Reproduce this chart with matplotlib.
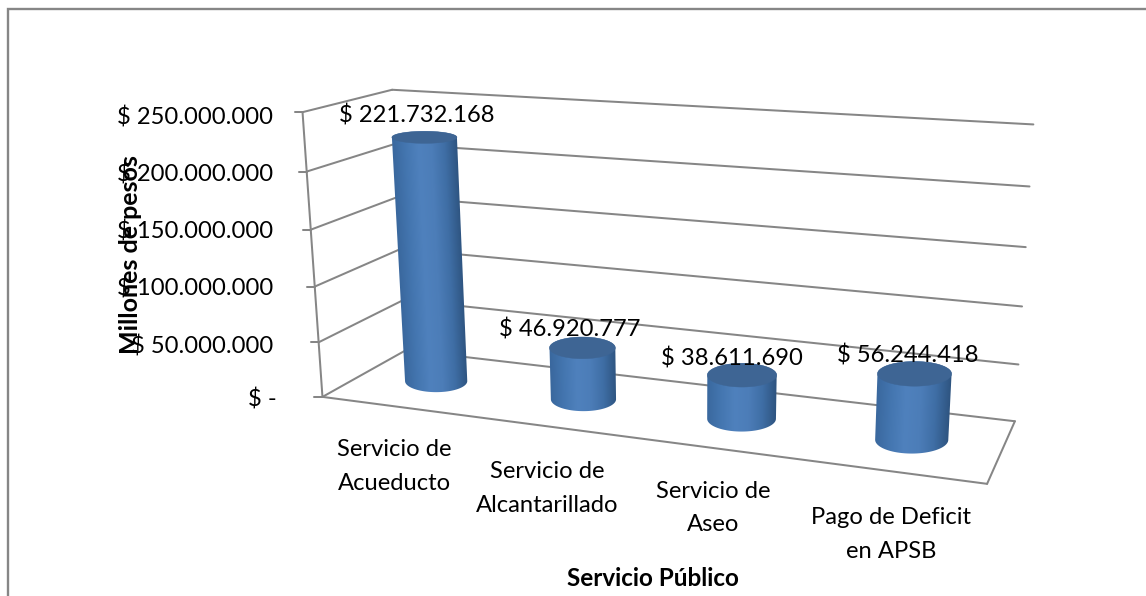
import numpy as np
import matplotlib
matplotlib.use("Agg")
import matplotlib.pyplot as plt
from matplotlib.colors import LinearSegmentedColormap
from matplotlib.patches import Polygon

categories = ["Servicio de\nAcueducto", "Servicio de\nAlcantarillado", "Servicio de\nAseo", "Pago de Deficit\nen APSB"]
values = [221732168, 46920777, 38611690, 56244418]
value_labels = ["$ 221.732.168", "$ 46.920.777", "$ 38.611.690", "$ 56.244.418"]
axis_ticks = [0, 50000000, 100000000, 150000000, 200000000, 250000000]
axis_tick_labels = ["$ -", "$ 50.000.000", "$ 100.000.000", "$ 150.000.000", "$ 200.000.000", "$ 250.000.000"]
y_title = "Millones de pesos"
x_title = "Servicio Público"
v_max = 250000000

plt.rcParams["font.family"] = ["Lato", "DejaVu Sans"]
W, H = 1146, 596
fig = plt.figure(figsize=(W / 100, H / 100), dpi=100, facecolor="white")
ax = fig.add_axes([0, 0, 1, 1])
ax.axis("off")

# Camera calibrated on the chart box: (category axis, depth, value fraction) -> pixel
calib = [
    (0, 0, 0.0, 322, 397), (0, 0, 0.2, 317, 342), (0, 0, 0.4, 314, 287),
    (0, 0, 0.6, 311, 230), (0, 0, 0.8, 308, 171), (0, 0, 1.0, 304, 112),
    (0, 1, 0.0, 408, 350), (0, 1, 1.0, 390, 90),
    (4, 1, 0.0, 1014, 421), (4, 1, 0.2, 1018, 365), (4, 1, 0.4, 1023, 306),
    (4, 1, 0.6, 1027, 247), (4, 1, 0.8, 1029, 186), (4, 1, 1.0, 1033, 125),
    (4, 0, 0.0, 987, 484),
]
A = []
for X, Y, Z, u, v in calib:
    A.append([X, Y, Z, 1, 0, 0, 0, 0, -u * X, -u * Y, -u * Z, -u])
    A.append([0, 0, 0, 0, X, Y, Z, 1, -v * X, -v * Y, -v * Z, -v])
P = np.linalg.svd(np.array(A, float))[2][-1].reshape(3, 4)


def project(x, d, value):
    x, d, z = np.broadcast_arrays(np.asarray(x, float), np.asarray(d, float), np.asarray(value, float) / v_max)
    q = P @ np.stack([x, d, z, np.ones_like(x, dtype=float)])
    return q[0] / q[2], q[1] / q[2]


def hull(pts):
    pts = sorted(map(tuple, pts))
    def half(seq):
        out = []
        for p in seq:
            while len(out) > 1 and (out[-1][0] - out[-2][0]) * (p[1] - out[-2][1]) - (out[-1][1] - out[-2][1]) * (p[0] - out[-2][0]) <= 0:
                out.pop()
            out.append(p)
        return out[:-1]
    return np.array(half(pts) + half(pts[::-1]))


GRID = "#868686"
lw = 1.45
FS = 17.1


def seg(p0, p1):
    ax.plot([p0[0], p1[0]], [p0[1], p1[1]], color=GRID, lw=lw, solid_capstyle="round", zorder=1)


# chart border (runs off the picture on the right and bottom)
ax.plot([8, 8, W], [H, 9, 9], color=GRID, lw=1.7, zorder=1, solid_joinstyle="miter")

# walls, floor, gridlines
tick_label_dy = [3, 4, 2, 2, 3, 5]
for t, lab, dy in zip(axis_ticks, axis_tick_labels, tick_label_dy):
    fl = project(0, 0, t)
    bl = project(0, 1, t)
    br = project(4, 1, t)
    seg(fl, bl)
    seg(bl, br)
    seg((fl[0] - 8, fl[1]), fl)
    ax.text(277 if t == 0 else 273, fl[1] + dy, lab, ha="right", va="center",
            fontsize=FS, color="black", zorder=6)
seg(project(0, 0, 0), project(0, 0, v_max))
seg(project(0, 0, 0), project(4, 0, 0))
seg(project(4, 0, 0), project(4, 1, 0))

# cylinders
cmap = LinearSegmentedColormap.from_list("cyl", ["#3a689e", "#4476b0", "#4f81bd", "#4c7db8", "#3f6ea5", "#2e5480"])
TOP = "#3e6594"
ru, rd = 0.205, 0.23
theta = np.linspace(0, 2 * np.pi, 241)


def ellipse(cx, val):
    ox, oy = project(cx, 0.5, val)
    a = abs(project(cx + ru, 0.5, val)[0] - project(cx - ru, 0.5, val)[0]) / 2
    skew = abs(project(cx, 0.5 + rd, val)[0] - project(cx, 0.5 - rd, val)[0]) / 2
    a = np.hypot(a, 0.6 * skew)
    b = abs(project(cx, 0.5 + rd, val)[1] - project(cx, 0.5 - rd, val)[1]) / 2
    return ox + a * np.cos(theta), oy + b * np.sin(theta), ox, oy, a


for i, val in enumerate(values):
    cx = i + 0.5
    bx, by, box, boy, ba = ellipse(cx, 0)
    tx, ty, tox, toy, ta = ellipse(cx, val)
    outline = hull(np.r_[np.c_[bx, by], np.c_[tx, ty]])
    x0, x1 = outline[:, 0].min() - 1, outline[:, 0].max() + 1
    y0, y1 = outline[:, 1].min() - 1, outline[:, 1].max() + 1
    gx, gy = np.meshgrid(np.linspace(x0, x1, 200), np.linspace(y0, y1, 200))
    f = np.clip((gy - toy) / (boy - toy), 0, 1)
    half_w = ta + (ba - ta) * f
    shade = np.clip((gx - (tox + (box - tox) * f) + half_w) / (2 * half_w), 0, 1)
    im = ax.imshow(cmap(shade), extent=(x0, x1, y1, y0), origin="upper", aspect="auto",
                   interpolation="bilinear", zorder=3)
    clip = Polygon(outline, closed=True, transform=ax.transData, fc="none", ec="none")
    ax.add_patch(clip)
    im.set_clip_path(clip)
    ax.fill(tx, ty, color=TOP, lw=0.3, zorder=4)

ax.set_xlim(0, W)
ax.set_ylim(H, 0)

# data labels
label_offsets = [(-8, -22), (-13, -18), (-10, -17), (-7, -18)]
for i, (val, lab, off) in enumerate(zip(values, value_labels, label_offsets)):
    px, py = project(i + 0.5, 0.5, val)
    ax.text(px + off[0], py + off[1], lab, ha="center", va="center", fontsize=FS, color="black", zorder=6)

# category labels
category_dy = [60, 62, 60, 63]
for i, (lab, dy) in enumerate(zip(categories, category_dy)):
    px, py = project(i + 0.5, 0, 0)
    ax.text(px - 1, py + dy, lab, ha="center", va="center", fontsize=FS, color="black", linespacing=1.75, zorder=6)

ax.text(653, 579, x_title, ha="center", va="center", fontsize=17.5, fontweight="bold", color="black", zorder=6)
ax.text(130, 255, y_title, ha="center", va="center", rotation=90, fontsize=18, fontweight="bold", color="black", zorder=7)

fig.savefig("out.png", dpi=100)
